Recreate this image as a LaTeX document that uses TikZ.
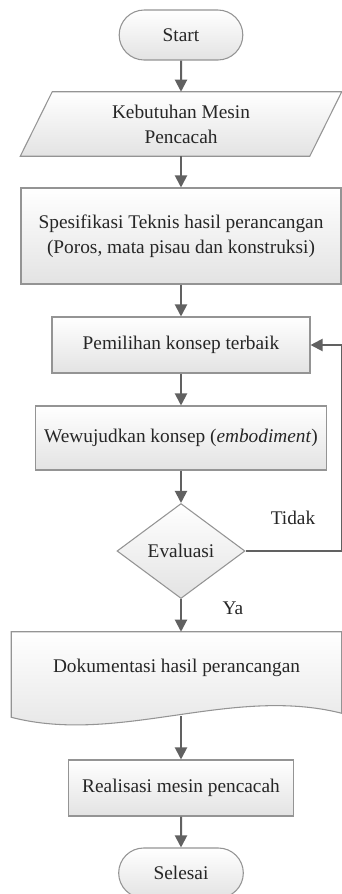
\documentclass[tikz,border=0pt]{standalone}
\usepackage{fontspec}
\setmainfont{Liberation Serif}
\usetikzlibrary{arrows.meta,shapes.geometric,shapes.misc,backgrounds,calc}

\begin{document}
\begin{tikzpicture}[x=0.75pt,y=-0.75pt]
\tikzset{
  txt/.style={font=\fontsize{14.5}{18.8}\selectfont,text=black!85,align=center},
  shapefill/.style={draw=black!42,line width=0.8pt,top color=white,bottom color=black!11},
  box/.style={rectangle,shapefill,txt,inner sep=2pt},
  terminal/.style={box,rounded rectangle},
  decision/.style={box,diamond,inner sep=0pt},
  plainnode/.style={rectangle,txt,inner sep=0pt},
  flow/.style={-{Triangle[length=9pt,width=9pt]},draw=black!62,line width=1.5pt}
}
\useasboundingbox (0,0) rectangle (342,894);
\node[terminal,minimum width=96.75pt,minimum height=37.5pt] (n_start) at (181,35) {Start};
\node[plainnode,minimum width=216.75pt,minimum height=48pt] (n_need) at (181,124) {Kebutuhan Mesin\\Pencacah};
\node[box,minimum width=240pt,minimum height=72pt] (n_spec) at (181,236) {Spesifikasi Teknis hasil perancangan\\(Poros, mata pisau dan konstruksi)};
\node[box,minimum width=193.5pt,minimum height=42pt] (n_pick) at (181,345) {Pemilihan konsep terbaik};
\node[box,minimum width=218.25pt,minimum height=48pt] (n_embody) at (181,438) {Wewujudkan konsep (\textit{embodiment})};
\node[decision,minimum width=96pt,minimum height=71.25pt] (n_eval) at (181,551) {Evaluasi};
\node[plainnode,minimum width=247.5pt,minimum height=63pt,text depth=12pt] (n_doc) at (176.5,674) {Dokumentasi hasil perancangan};
\node[box,minimum width=168.75pt,minimum height=42pt] (n_build) at (181,788) {Realisasi mesin pencacah};
\node[terminal,minimum width=97.5pt,minimum height=37.5pt] (n_end) at (181,873) {Selesai};
\node[txt] (n_no) at (293,518) {Tidak};
\node[txt] (n_yes) at (233,608) {Ya};
\begin{scope}[on background layer]
\draw[shapefill] ($(n_need.north west)+(16,0)$) -- ($(n_need.north east)+(16,0)$) -- ($(n_need.south east)+(-16,0)$) -- ($(n_need.south west)+(-16,0)$) -- cycle;
\draw[shapefill] (n_doc.north west) -- (n_doc.north east) -- ($(n_doc.south east)+(0,-3)$)
  .. controls ($(n_doc.south east)+(-111,-31)$) and ($(n_doc.south west)+(108,29)$) .. ($(n_doc.south west)+(0,1)$) -- cycle;
\end{scope}
\draw[flow] (n_start) -- (n_need);
\draw[flow] (n_need) -- (n_spec);
\draw[flow] (n_spec) -- (n_pick);
\draw[flow] (n_pick) -- (n_embody);
\draw[flow] (n_embody) -- (n_eval);
\draw[flow] (n_eval) -- (n_eval |- n_doc.north);
\draw[flow] (n_doc.south -| n_build) -- (n_build);
\draw[flow] (n_build) -- (n_end);
\draw[flow] (n_eval.east) -- ++(96,0) |- (n_pick.east);
\end{tikzpicture}
\end{document}
